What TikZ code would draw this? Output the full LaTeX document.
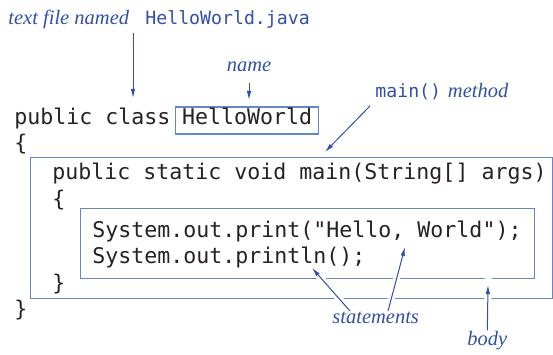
\documentclass[tikz,border=0pt]{standalone}
\usepackage{fontspec}
\setmainfont{Liberation Serif}
\setmonofont{DejaVu Sans Mono}
\usetikzlibrary{arrows.meta}
\usetikzlibrary{calc,backgrounds}
\definecolor{codeink}{RGB}{40,32,35}
\definecolor{labelblue}{RGB}{50,80,165}
\definecolor{boxblue}{RGB}{100,135,200}

\tikzset{
  code/.style={anchor=base west,inner sep=0pt,text=codeink,
    font={\fontsize{21.6}{26}\selectfont\ttfamily}},
  note/.style={anchor=base west,inner sep=0pt,text=labelblue,
    font={\fontsize{20.5}{24}\selectfont\itshape}},
  notett/.style={anchor=base west,inner sep=0pt,text=labelblue,
    font={\fontsize{18.2}{22}\selectfont\ttfamily}},
  frame/.style={draw=boxblue,line width=1.3pt},
  pointer/.style={->,draw=labelblue,line width=1pt,
    preaction={draw=white,line width=7pt,-,shorten >=#1}},
  pointer/.default=0pt
}

\begin{document}
\begin{tikzpicture}[x=1pt,y=-1pt,>={Latex[length=9pt,width=4.5pt]},thick]
      \useasboundingbox (0,0) rectangle (553,355);

      % the code
      \node (cls) at (14,125) [code] {public class};
      \node (hw) at (175,125)
      [code,frame,inner xsep=6.5pt,inner ysep=6pt,text height=12pt,text depth=3pt]
      {HelloWorld};
      \node (open1) at (14,151) [code] {\{};
      \node (sig) at (52,180) [code] {public static void main(String[] args)};
      \node (open2) at (52,207) [code] {\{};
      \node (line1) at (92,237) [code] {System.out.print("Hello, World");};
      \node (line2) at (92,263) [code] {System.out.println();};
      \node (close2) at (52,290) [code] {\}};
      \node (close1) at (14,316) [code] {\}};

      % the notes
      \node (tfn) at (8,25) [note] {text file named};
      \node (tfj) at (145,25) [notett] {HelloWorld.java};
      \node (nm) at (249,72) [note,anchor=base] {name};
      \node (mm) at (375,98) [notett] {main()};
      \node (mth) at ($(mm.base east)+(6,0)$) [note] {method};
      \node (st) at (332,323) [note] {statements};
      \node (bd) at (467,345) [note] {body};

      \coordinate (fileTip) at (133,98);
      \coordinate (nameTip) at (249,100);
      \coordinate (mainTip) at (325,152);
      \coordinate (stTipA) at (312,268);
      \coordinate (stTipB) at (405,247);
      \coordinate (bodyTip) at (488,285);

      \begin{pgfonlayer}{background}
      \node (method) at (30,157)
      [frame,anchor=north west,inner sep=0pt,minimum width=522pt,minimum height=141pt] {};
      \node (body) at (80,208)
      [frame,anchor=north west,inner sep=0pt,minimum width=454pt,minimum height=70pt] {};

      \draw [pointer,shorten <=3pt] (fileTip |- tfn.south) -- (fileTip);
      \draw [pointer,shorten <=10pt] (nm.south) -- (nameTip);
      \draw [pointer,shorten <=7pt] (mm.south west) -- (mainTip);
      \draw [pointer] ($(st.north west)+(18,0)$) -- (stTipA);
      \draw [pointer] ($(st.north west)+(56,0)$) -- (stTipB);
      \draw [pointer=-10pt] (bd.north) -- (bodyTip);
      \end{pgfonlayer}
    \end{tikzpicture}
\end{document}
